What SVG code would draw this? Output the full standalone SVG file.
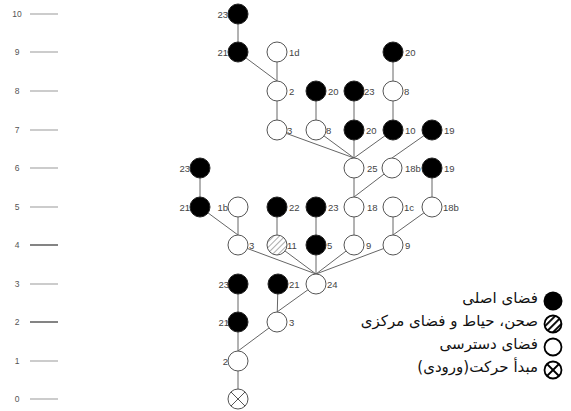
<svg xmlns="http://www.w3.org/2000/svg" width="571" height="411" viewBox="0 0 571 411">
<style>
.ax{font-family:"Liberation Sans",Arial,sans-serif;font-size:8.5px;fill:#555;text-anchor:middle}
.axl{stroke:#aaa;stroke-width:1.2}
.axd{stroke:#333;stroke-width:1.2}
.lbl{font-family:"Liberation Sans",Arial,sans-serif;font-size:9.5px;fill:#444}
.l{text-anchor:end}
.blk{fill:#000;stroke:#222;stroke-width:1}
.wht{fill:#fff;stroke:#555;stroke-width:1}
.hat{fill:url(#hatch);stroke:#555;stroke-width:1}
.con line{stroke:#666;stroke-width:1}
.leg{font-family:"DejaVu Sans","Noto Sans",sans-serif;font-size:15px;fill:#111}
</style>
<defs>
<pattern id="hatch" patternUnits="userSpaceOnUse" width="4" height="4" patternTransform="rotate(45)">
<rect width="4" height="4" fill="#fff"/>
<line x1="0" y1="0" x2="0" y2="4" stroke="#888" stroke-width="1.4"/>
</pattern>
<pattern id="hatch2" patternUnits="userSpaceOnUse" width="5" height="5" patternTransform="rotate(45)">
<rect width="5" height="5" fill="#fff"/>
<line x1="0" y1="0" x2="0" y2="5" stroke="#000" stroke-width="3.8"/>
</pattern>
</defs>

<g id="axis">
<text class="ax" x="17" y="17">10</text><line class="axl" x1="30" y1="14" x2="58" y2="14"/>
<text class="ax" x="17" y="55">9</text><line class="axl" x1="30" y1="52" x2="58" y2="52"/>
<text class="ax" x="17" y="94">8</text><line class="axl" x1="30" y1="91" x2="58" y2="91"/>
<text class="ax" x="17" y="133">7</text><line class="axl" x1="30" y1="130" x2="58" y2="130"/>
<text class="ax" x="17" y="171">6</text><line class="axl" x1="30" y1="168" x2="58" y2="168"/>
<text class="ax" x="17" y="210">5</text><line class="axl" x1="30" y1="207" x2="58" y2="207"/>
<text class="ax" x="17" y="248">4</text><line class="axd" x1="30" y1="245" x2="58" y2="245"/>
<text class="ax" x="17" y="287">3</text><line class="axl" x1="30" y1="284" x2="58" y2="284"/>
<text class="ax" x="17" y="325">2</text><line class="axd" x1="30" y1="322" x2="58" y2="322"/>
<text class="ax" x="17" y="364">1</text><line class="axl" x1="30" y1="361" x2="58" y2="361"/>
<text class="ax" x="17" y="402">0</text><line class="axl" x1="30" y1="399" x2="58" y2="399"/>
</g>

<g id="connectors" class="con">
<line x1="238" y1="14" x2="238" y2="52"/>
<line x1="238" y1="52" x2="277" y2="81"/>
<line x1="277" y1="52" x2="277" y2="91"/>
<line x1="277" y1="91" x2="277" y2="130"/>
<line x1="393" y1="52" x2="393" y2="91"/>
<line x1="393" y1="91" x2="393" y2="130"/>
<line x1="316" y1="91" x2="316" y2="130"/>
<line x1="354" y1="91" x2="354" y2="130"/>
<line x1="277" y1="130" x2="354" y2="158"/>
<line x1="316" y1="130" x2="354" y2="158"/>
<line x1="354" y1="130" x2="354" y2="158"/>
<line x1="393" y1="130" x2="354" y2="158"/>
<line x1="432" y1="130" x2="392" y2="158"/>
<line x1="354" y1="168" x2="354" y2="207"/>
<line x1="392" y1="168" x2="354" y2="197"/>
<line x1="432" y1="168" x2="432" y2="207"/>
<line x1="200" y1="168" x2="200" y2="207"/>
<line x1="200" y1="207" x2="238" y2="235"/>
<line x1="238" y1="207" x2="238" y2="245"/>
<line x1="277" y1="207" x2="277" y2="245"/>
<line x1="316" y1="207" x2="316" y2="245"/>
<line x1="354" y1="207" x2="354" y2="245"/>
<line x1="393" y1="207" x2="393" y2="245"/>
<line x1="432" y1="207" x2="393" y2="235"/>
<line x1="238" y1="245" x2="316" y2="274"/>
<line x1="277" y1="245" x2="316" y2="274"/>
<line x1="316" y1="245" x2="316" y2="274"/>
<line x1="354" y1="245" x2="316" y2="274"/>
<line x1="393" y1="245" x2="316" y2="274"/>
<line x1="316" y1="284" x2="277" y2="312"/>
<line x1="278" y1="284" x2="277" y2="322"/>
<line x1="238" y1="284" x2="238" y2="322"/>
<line x1="238" y1="322" x2="238" y2="361"/>
<line x1="277" y1="322" x2="238" y2="351"/>
<line x1="238" y1="361" x2="238" y2="399"/>
</g>

<g id="n10_23"><circle class="blk" cx="238" cy="14" r="10"/><text class="lbl l" x="228" y="18">23</text></g>
<g id="n9_21"><circle class="blk" cx="238" cy="52" r="10"/><text class="lbl l" x="228" y="56">21</text></g>
<g id="n9_1d"><circle class="wht" cx="277" cy="52" r="10"/><text class="lbl" x="289" y="56">1d</text></g>
<g id="n9_20"><circle class="blk" cx="393" cy="52" r="10"/><text class="lbl" x="405" y="56">20</text></g>
<g id="n8_2"><circle class="wht" cx="277" cy="91" r="10"/><text class="lbl" x="289" y="95">2</text></g>
<g id="n8_20"><circle class="blk" cx="316" cy="91" r="10"/><text class="lbl" x="328" y="95">20</text></g>
<g id="n8_23"><circle class="blk" cx="354" cy="91" r="10"/><text class="lbl" x="364" y="95">23</text></g>
<g id="n8_8"><circle class="wht" cx="393" cy="91" r="10"/><text class="lbl" x="404" y="95">8</text></g>
<g id="n7_3"><circle class="wht" cx="277" cy="130" r="10"/><text class="lbl" x="287" y="134">3</text></g>
<g id="n7_8"><circle class="wht" cx="316" cy="130" r="10"/><text class="lbl" x="326" y="134">8</text></g>
<g id="n7_20"><circle class="blk" cx="354" cy="130" r="10"/><text class="lbl" x="366" y="134">20</text></g>
<g id="n7_10"><circle class="blk" cx="393" cy="130" r="10"/><text class="lbl" x="405" y="134">10</text></g>
<g id="n7_19"><circle class="blk" cx="432" cy="130" r="10"/><text class="lbl" x="444" y="134">19</text></g>
<g id="n6_23"><circle class="blk" cx="200" cy="168" r="10"/><text class="lbl l" x="190" y="172">23</text></g>
<g id="n6_25"><circle class="wht" cx="354" cy="168" r="10"/><text class="lbl" x="367" y="172">25</text></g>
<g id="n6_18b"><circle class="wht" cx="392" cy="168" r="10"/><text class="lbl" x="405" y="172">18b</text></g>
<g id="n6_19"><circle class="blk" cx="432" cy="168" r="10"/><text class="lbl" x="444" y="172">19</text></g>
<g id="n5_21"><circle class="blk" cx="200" cy="207" r="10"/><text class="lbl l" x="190" y="211">21</text></g>
<g id="n5_1b"><circle class="wht" cx="238" cy="207" r="10"/><text class="lbl l" x="228" y="211">1b</text></g>
<g id="n5_22"><circle class="blk" cx="277" cy="207" r="10"/><text class="lbl" x="289" y="211">22</text></g>
<g id="n5_23"><circle class="blk" cx="316" cy="207" r="10"/><text class="lbl" x="328" y="211">23</text></g>
<g id="n5_18"><circle class="wht" cx="354" cy="207" r="10"/><text class="lbl" x="367" y="211">18</text></g>
<g id="n5_1c"><circle class="wht" cx="393" cy="207" r="10"/><text class="lbl" x="404" y="211">1c</text></g>
<g id="n5_18b"><circle class="wht" cx="432" cy="207" r="10"/><text class="lbl" x="443" y="211">18b</text></g>
<g id="n4_3"><circle class="wht" cx="238" cy="245" r="10"/><text class="lbl" x="249" y="249">3</text></g>
<g id="n4_11"><circle class="hat" cx="277" cy="245" r="10"/><text class="lbl" x="287" y="249">11</text></g>
<g id="n4_5"><circle class="blk" cx="316" cy="245" r="10"/><text class="lbl" x="327" y="249">5</text></g>
<g id="n4_9a"><circle class="wht" cx="354" cy="245" r="10"/><text class="lbl" x="366" y="249">9</text></g>
<g id="n4_9b"><circle class="wht" cx="393" cy="245" r="10"/><text class="lbl" x="405" y="249">9</text></g>
<g id="n3_23"><circle class="blk" cx="238" cy="284" r="10"/><text class="lbl l" x="229" y="288">23</text></g>
<g id="n3_21"><circle class="blk" cx="278" cy="284" r="10"/><text class="lbl" x="289" y="288">21</text></g>
<g id="n3_24"><circle class="wht" cx="316" cy="284" r="10"/><text class="lbl" x="327" y="288">24</text></g>
<g id="n2_21"><circle class="blk" cx="238" cy="322" r="10"/><text class="lbl l" x="229" y="326">21</text></g>
<g id="n2_3"><circle class="wht" cx="277" cy="322" r="10"/><text class="lbl" x="289" y="326">3</text></g>
<g id="n1_2"><circle class="wht" cx="238" cy="361" r="10"/><text class="lbl l" x="228" y="365">2</text></g>
<g id="n0"><circle class="wht" cx="238" cy="399" r="10"/><line x1="231" y1="392" x2="245" y2="406" stroke="#555" stroke-width="1"/><line x1="245" y1="392" x2="231" y2="406" stroke="#555" stroke-width="1"/></g>

<g id="legend">
<g id="leg1"><circle cx="553" cy="301" r="9.5" fill="#000"/><text class="leg" x="538" y="303" direction="rtl" text-anchor="start">فضای اصلی</text></g>
<g id="leg2"><circle cx="553" cy="324" r="8.5" fill="url(#hatch2)" stroke="#000" stroke-width="1.8"/><text class="leg" x="538" y="326" direction="rtl" text-anchor="start">صحن، حیاط و فضای مرکزی</text></g>
<g id="leg3"><circle cx="553" cy="347" r="8.5" fill="#fff" stroke="#000" stroke-width="1.8"/><text class="leg" x="538" y="349" direction="rtl" text-anchor="start">فضای دسترسی</text></g>
<g id="leg4"><circle cx="553" cy="370" r="8.5" fill="#fff" stroke="#000" stroke-width="1.8"/><line x1="547" y1="364" x2="559" y2="376" stroke="#000" stroke-width="1.8"/><line x1="559" y1="364" x2="547" y2="376" stroke="#000" stroke-width="1.8"/><text class="leg" x="538" y="372" direction="rtl" text-anchor="start">مبدأ حرکت(ورودی)</text></g>
</g>
</svg>
